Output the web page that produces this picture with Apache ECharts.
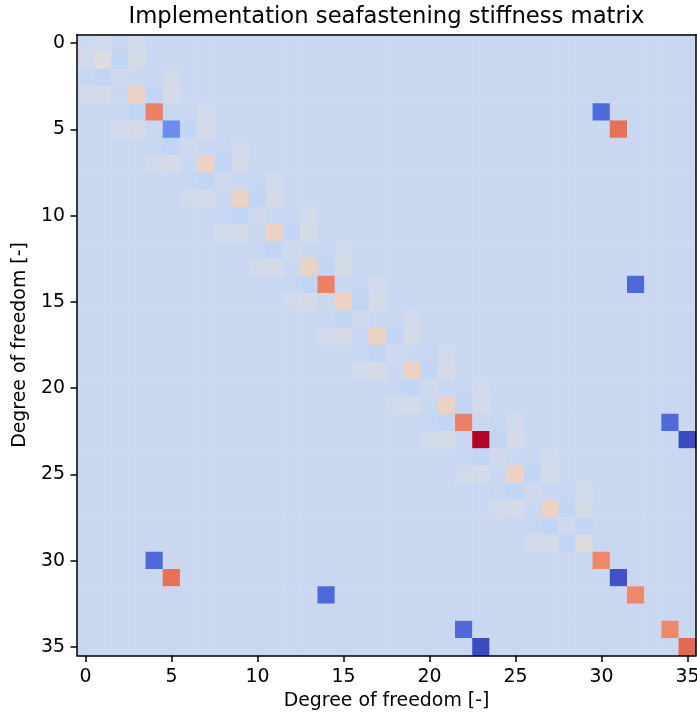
<!DOCTYPE html>
<html>
<head>
<meta charset="utf-8">
<title>Implementation seafastening stiffness matrix</title>
<script src="https://cdn.jsdelivr.net/npm/echarts@6/dist/echarts.min.js"></script>
<style>
  html, body { margin: 0; padding: 0; background: #ffffff; }
  #chart { width: 697px; height: 715px; }
</style>
</head>
<body>
<div id="chart"></div>
<script>
// Degree-of-freedom indices (rows and columns of the matrix)
const dofs = Array.from({ length: 36 }, (_, i) => String(i));
const tickLabels = ['0', '5', '10', '15', '20', '25', '30', '35'];

// Beam part of the stiffness matrix: [row, col, value], DOFs 0-29
const beamEntries = [
  [0,0,0.07],[0,1,0.25],[0,2,-0.07],[0,3,0.25],
  [1,0,0.25],[1,1,0.72],[1,2,-0.25],[1,3,0.36],
  [2,0,-0.07],[2,1,-0.25],[2,2,0.14],[2,4,-0.07],[2,5,0.25],
  [3,0,0.25],[3,1,0.36],[3,3,1.44],[3,4,-0.25],[3,5,0.36],
  [4,2,-0.07],[4,3,-0.25],[4,4,3.84],[4,6,-0.07],[4,7,0.25],
  [5,2,0.25],[5,3,0.36],[5,5,-2.80],[5,6,-0.25],[5,7,0.36],
  [6,4,-0.07],[6,5,-0.25],[6,6,0.14],[6,8,-0.07],[6,9,0.25],
  [7,4,0.25],[7,5,0.36],[7,7,1.44],[7,8,-0.25],[7,9,0.36],
  [8,6,-0.07],[8,7,-0.25],[8,8,0.14],[8,10,-0.07],[8,11,0.25],
  [9,6,0.25],[9,7,0.36],[9,9,1.44],[9,10,-0.25],[9,11,0.36],
  [10,8,-0.07],[10,9,-0.25],[10,10,0.14],[10,12,-0.07],[10,13,0.25],
  [11,8,0.25],[11,9,0.36],[11,11,1.44],[11,12,-0.25],[11,13,0.36],
  [12,10,-0.07],[12,11,-0.25],[12,12,0.14],[12,14,-0.07],[12,15,0.25],
  [13,10,0.25],[13,11,0.36],[13,13,1.44],[13,14,-0.25],[13,15,0.36],
  [14,12,-0.07],[14,13,-0.25],[14,14,3.84],[14,16,-0.07],[14,17,0.25],
  [15,12,0.25],[15,13,0.36],[15,15,1.44],[15,16,-0.25],[15,17,0.36],
  [16,14,-0.07],[16,15,-0.25],[16,16,0.14],[16,18,-0.07],[16,19,0.25],
  [17,14,0.25],[17,15,0.36],[17,17,1.44],[17,18,-0.25],[17,19,0.36],
  [18,16,-0.07],[18,17,-0.25],[18,18,0.14],[18,20,-0.07],[18,21,0.25],
  [19,16,0.25],[19,17,0.36],[19,19,1.44],[19,20,-0.25],[19,21,0.36],
  [20,18,-0.07],[20,19,-0.25],[20,20,0.14],[20,22,-0.07],[20,23,0.25],
  [21,18,0.25],[21,19,0.36],[21,21,1.44],[21,22,-0.25],[21,23,0.36],
  [22,20,-0.07],[22,21,-0.25],[22,22,3.84],[22,24,-0.07],[22,25,0.25],
  [23,20,0.25],[23,21,0.36],[23,23,5.80],[23,24,-0.25],[23,25,0.36],
  [24,22,-0.07],[24,23,-0.25],[24,24,0.14],[24,26,-0.07],[24,27,0.25],
  [25,22,0.25],[25,23,0.36],[25,25,1.44],[25,26,-0.25],[25,27,0.36],
  [26,24,-0.07],[26,25,-0.25],[26,26,0.14],[26,28,-0.07],[26,29,0.25],
  [27,24,0.25],[27,25,0.36],[27,27,1.44],[27,28,-0.25],[27,29,0.36],
  [28,26,-0.07],[28,27,-0.25],[28,28,0.07],[28,29,-0.25],
  [29,26,0.25],[29,27,0.36],[29,28,-0.25],[29,29,0.72]
];

// Seafastening springs coupling deck DOFs to DOFs 30-35
const springEntries = [
  [4,30,-3.70],[30,4,-3.70],[30,30,3.70],
  [5,31,4.20],[31,5,4.20],[31,31,-4.20],
  [14,32,-3.70],[32,14,-3.70],[32,32,3.70],
  [22,34,-3.70],[34,22,-3.70],[34,34,3.70],
  [23,35,-4.36],[35,23,-4.36],[35,35,4.36]
];

// Colour range of the image
const vMin = -4.36;
const vMax = 5.80;

// coolwarm colour ramp
const coolwarm = [
  '#3b4cc0','#445acc','#4d68d7','#5775e1','#6282ea','#6c8ef1','#779af7','#82a5fb',
  '#8db0fe','#98b9ff','#a3c2ff','#aec9fd','#b8d0f9','#c2d5f4','#ccd9ee','#d5dbe6',
  '#dddddd','#e5d8d1','#ecd3c5','#f1ccb8','#f5c4ac','#f7bba0','#f7b194','#f7a689',
  '#f49a7b','#f18d6f','#ec7f63','#e57058','#de604d','#d55042','#cb3e38','#c0282f',
  '#b40426'
];

// Assemble the full matrix as heatmap cells [col, row, value]
const lookup = {};
beamEntries.concat(springEntries).forEach(([r, c, v]) => { lookup[r + ',' + c] = v; });
const cells = [];
for (let r = 0; r < dofs.length; r++) {
  for (let c = 0; c < dofs.length; c++) {
    const v = lookup[r + ',' + c];
    cells.push([c, r, v === undefined ? 0 : v]);
  }
}

const FONT = 'DejaVu Sans';
const LABEL_SIZE = 18.9;
const showTick = (idx) => tickLabels.indexOf(dofs[idx]) !== -1;

const frameAxis = {
  type: 'category',
  data: dofs,
  z: 10,
  axisLine: { show: true, lineStyle: { color: '#000', width: 1.5 } },
  axisTick: { show: false },
  axisLabel: { show: false },
  splitLine: { show: false }
};

const chart = echarts.init(document.getElementById('chart'), null, { renderer: 'canvas' });
chart.setOption({
  animation: false,
  backgroundColor: '#ffffff',
  title: {
    text: 'Implementation seafastening stiffness matrix',
    left: 381.5,
    top: 1,
    textAlign: 'center',
    textStyle: { fontFamily: FONT, fontSize: 22.7, fontWeight: 'normal', color: '#000' }
  },
  grid: {
    left: 77, top: 34.5, width: 619, height: 621,
    containLabel: false,
    outerBoundsMode: 'none'
  },
  xAxis: [
    {
      type: 'category',
      data: dofs,
      position: 'bottom',
      z: 10,
      name: 'Degree of freedom [-]',
      nameLocation: 'middle',
      nameGap: 35,
      nameTextStyle: { fontFamily: FONT, fontSize: LABEL_SIZE, color: '#000' },
      axisLine: { show: true, lineStyle: { color: '#000', width: 1.5 } },
      axisTick: { show: true, interval: (i) => showTick(i), alignWithLabel: true, length: 6.5, lineStyle: { color: '#000', width: 1.5 } },
      axisLabel: { interval: (i) => showTick(i), margin: 12, fontFamily: FONT, fontSize: LABEL_SIZE, color: '#000', hideOverlap: false },
      splitLine: { show: false }
    },
    Object.assign({ position: 'top' }, frameAxis)
  ],
  yAxis: [
    {
      type: 'category',
      data: dofs,
      inverse: true,
      position: 'left',
      z: 10,
      name: 'Degree of freedom [-]',
      nameLocation: 'middle',
      nameGap: 42,
      nameRotate: 90,
      nameTextStyle: { fontFamily: FONT, fontSize: LABEL_SIZE, color: '#000' },
      axisLine: { show: true, lineStyle: { color: '#000', width: 1.5 } },
      axisTick: { show: true, interval: (i) => showTick(i), alignWithLabel: true, length: 6.5, lineStyle: { color: '#000', width: 1.5 } },
      axisLabel: { interval: (i) => showTick(i), margin: 12, fontFamily: FONT, fontSize: LABEL_SIZE, color: '#000' },
      splitLine: { show: false }
    },
    Object.assign({ position: 'right', inverse: true }, frameAxis)
  ],
  visualMap: {
    type: 'continuous',
    show: false,
    dimension: 2,
    seriesIndex: 0,
    min: vMin,
    max: vMax,
    inRange: { color: coolwarm }
  },
  series: [{
    type: 'heatmap',
    xAxisIndex: 0,
    yAxisIndex: 0,
    data: cells,
    itemStyle: { borderWidth: 0 },
    emphasis: { disabled: true },
    progressive: 0
  }]
});
</script>
</body>
</html>
